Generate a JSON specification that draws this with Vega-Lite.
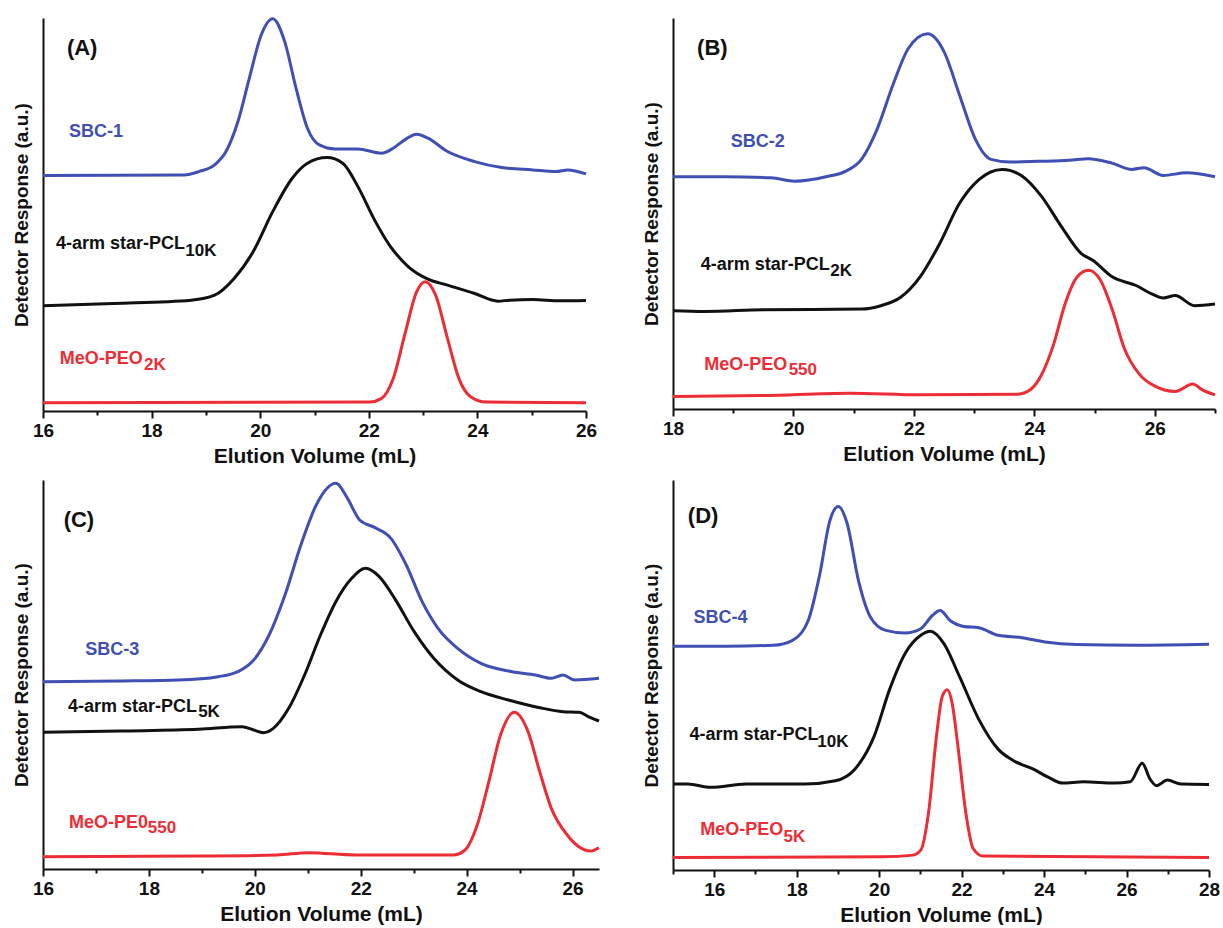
{
"$schema": "https://vega.github.io/schema/vega-lite/v6.json",
"padding": {"left": 12, "top": 12, "right": 0, "bottom": 0},
"background": "white",
"config": {
  "view": {"stroke": null},
  "font": "Liberation Sans",
  "axis": {"domainColor": "#111", "domainWidth": 2, "tickColor": "#111", "tickWidth": 2, "labelFont": "Liberation Sans", "labelFontWeight": "bold", "labelFontSize": 19, "labelColor": "#111", "titleFont": "Liberation Sans", "titleFontWeight": "bold", "titleColor": "#111", "grid": false},
  "axisX": {"labelFlush": false, "labelPadding": 3, "titleFontSize": 21, "titlePadding": 5, "labelExpr": "datum.value % 2 === 0 ? datum.label : ''", "tickSize": {"condition": {"test": "datum.value % 2 === 0", "value": 7}, "value": 4}},
  "axisY": {"labels": false, "ticks": false, "titleFontSize": 19, "titlePadding": 12, "minExtent": 0},
  "text": {"font": "Liberation Sans", "fontWeight": "bold", "align": "left", "baseline": "middle"},
  "line": {"interpolate": "monotone", "strokeWidth": 3}
},
"datasets": {
"curves": [
{"p":"A","s":"SBC","x":16,"y":705},{"p":"A","s":"SBC","x":18.6,"y":707},{"p":"A","s":"SBC","x":18.87,"y":717},{"p":"A","s":"SBC","x":19.16,"y":737},{"p":"A","s":"SBC","x":19.37,"y":777},{"p":"A","s":"SBC","x":19.59,"y":867},{"p":"A","s":"SBC","x":19.8,"y":997},{"p":"A","s":"SBC","x":20.02,"y":1127},{"p":"A","s":"SBC","x":20.23,"y":1175},{"p":"A","s":"SBC","x":20.45,"y":1107},{"p":"A","s":"SBC","x":20.66,"y":967},{"p":"A","s":"SBC","x":20.87,"y":847},{"p":"A","s":"SBC","x":21.09,"y":797},{"p":"A","s":"SBC","x":21.38,"y":785},{"p":"A","s":"SBC","x":21.8,"y":785},{"p":"A","s":"SBC","x":22.23,"y":772},{"p":"A","s":"SBC","x":22.45,"y":787},{"p":"A","s":"SBC","x":22.66,"y":812},{"p":"A","s":"SBC","x":22.88,"y":829},{"p":"A","s":"SBC","x":23.09,"y":817},{"p":"A","s":"SBC","x":23.45,"y":777},{"p":"A","s":"SBC","x":23.95,"y":747},{"p":"A","s":"SBC","x":24.45,"y":729},{"p":"A","s":"SBC","x":25.02,"y":722},{"p":"A","s":"SBC","x":25.45,"y":717},{"p":"A","s":"SBC","x":25.66,"y":722},{"p":"A","s":"SBC","x":26,"y":710},
{"p":"A","s":"PCL","x":16,"y":315},{"p":"A","s":"PCL","x":17.3,"y":322},{"p":"A","s":"PCL","x":18.73,"y":332},{"p":"A","s":"PCL","x":19.16,"y":347},{"p":"A","s":"PCL","x":19.52,"y":397},{"p":"A","s":"PCL","x":19.87,"y":477},{"p":"A","s":"PCL","x":20.23,"y":597},{"p":"A","s":"PCL","x":20.59,"y":697},{"p":"A","s":"PCL","x":20.87,"y":742},{"p":"A","s":"PCL","x":21.23,"y":759},{"p":"A","s":"PCL","x":21.52,"y":742},{"p":"A","s":"PCL","x":21.8,"y":672},{"p":"A","s":"PCL","x":22.09,"y":577},{"p":"A","s":"PCL","x":22.38,"y":497},{"p":"A","s":"PCL","x":22.73,"y":432},{"p":"A","s":"PCL","x":23.09,"y":395},{"p":"A","s":"PCL","x":23.45,"y":377},{"p":"A","s":"PCL","x":23.95,"y":352},{"p":"A","s":"PCL","x":24.38,"y":329},{"p":"A","s":"PCL","x":24.59,"y":332},{"p":"A","s":"PCL","x":25.02,"y":334},{"p":"A","s":"PCL","x":25.52,"y":330},{"p":"A","s":"PCL","x":26,"y":331},
{"p":"A","s":"PEO","x":16,"y":25},{"p":"A","s":"PEO","x":22.02,"y":27},{"p":"A","s":"PEO","x":22.23,"y":37},{"p":"A","s":"PEO","x":22.45,"y":97},{"p":"A","s":"PEO","x":22.66,"y":227},{"p":"A","s":"PEO","x":22.88,"y":357},{"p":"A","s":"PEO","x":23.04,"y":387},{"p":"A","s":"PEO","x":23.23,"y":347},{"p":"A","s":"PEO","x":23.45,"y":217},{"p":"A","s":"PEO","x":23.66,"y":97},{"p":"A","s":"PEO","x":23.88,"y":42},{"p":"A","s":"PEO","x":24.16,"y":27},{"p":"A","s":"PEO","x":26,"y":25},
{"p":"B","s":"SBC","x":18,"y":690},{"p":"B","s":"SBC","x":18.85,"y":690},{"p":"B","s":"SBC","x":19.63,"y":687},{"p":"B","s":"SBC","x":20.02,"y":677},{"p":"B","s":"SBC","x":20.54,"y":690},{"p":"B","s":"SBC","x":20.87,"y":707},{"p":"B","s":"SBC","x":21.13,"y":742},{"p":"B","s":"SBC","x":21.39,"y":832},{"p":"B","s":"SBC","x":21.65,"y":962},{"p":"B","s":"SBC","x":21.91,"y":1072},{"p":"B","s":"SBC","x":22.23,"y":1115},{"p":"B","s":"SBC","x":22.5,"y":1062},{"p":"B","s":"SBC","x":22.76,"y":932},{"p":"B","s":"SBC","x":23.02,"y":802},{"p":"B","s":"SBC","x":23.28,"y":742},{"p":"B","s":"SBC","x":23.6,"y":734},{"p":"B","s":"SBC","x":24.06,"y":736},{"p":"B","s":"SBC","x":24.58,"y":739},{"p":"B","s":"SBC","x":24.9,"y":744},{"p":"B","s":"SBC","x":25.3,"y":730},{"p":"B","s":"SBC","x":25.62,"y":712},{"p":"B","s":"SBC","x":25.82,"y":717},{"p":"B","s":"SBC","x":26.14,"y":694},{"p":"B","s":"SBC","x":26.53,"y":702},{"p":"B","s":"SBC","x":27,"y":690},
{"p":"B","s":"PCL","x":18,"y":292},{"p":"B","s":"PCL","x":18.52,"y":290},{"p":"B","s":"PCL","x":19.5,"y":295},{"p":"B","s":"PCL","x":21.13,"y":297},{"p":"B","s":"PCL","x":21.45,"y":307},{"p":"B","s":"PCL","x":21.78,"y":332},{"p":"B","s":"PCL","x":22.1,"y":392},{"p":"B","s":"PCL","x":22.43,"y":492},{"p":"B","s":"PCL","x":22.76,"y":612},{"p":"B","s":"PCL","x":23.08,"y":682},{"p":"B","s":"PCL","x":23.47,"y":712},{"p":"B","s":"PCL","x":23.8,"y":692},{"p":"B","s":"PCL","x":24.12,"y":632},{"p":"B","s":"PCL","x":24.45,"y":542},{"p":"B","s":"PCL","x":24.78,"y":462},{"p":"B","s":"PCL","x":24.97,"y":442},{"p":"B","s":"PCL","x":25.3,"y":392},{"p":"B","s":"PCL","x":25.69,"y":367},{"p":"B","s":"PCL","x":25.95,"y":342},{"p":"B","s":"PCL","x":26.14,"y":330},{"p":"B","s":"PCL","x":26.34,"y":337},{"p":"B","s":"PCL","x":26.66,"y":307},{"p":"B","s":"PCL","x":27,"y":312},
{"p":"B","s":"PEO","x":18,"y":37},{"p":"B","s":"PEO","x":19.5,"y":40},{"p":"B","s":"PEO","x":20.93,"y":47},{"p":"B","s":"PEO","x":22.1,"y":42},{"p":"B","s":"PEO","x":23.73,"y":44},{"p":"B","s":"PEO","x":23.93,"y":57},{"p":"B","s":"PEO","x":24.12,"y":102},{"p":"B","s":"PEO","x":24.32,"y":192},{"p":"B","s":"PEO","x":24.51,"y":312},{"p":"B","s":"PEO","x":24.71,"y":392},{"p":"B","s":"PEO","x":24.9,"y":412},{"p":"B","s":"PEO","x":25.1,"y":382},{"p":"B","s":"PEO","x":25.3,"y":292},{"p":"B","s":"PEO","x":25.49,"y":182},{"p":"B","s":"PEO","x":25.75,"y":102},{"p":"B","s":"PEO","x":26.01,"y":67},{"p":"B","s":"PEO","x":26.34,"y":52},{"p":"B","s":"PEO","x":26.63,"y":74},{"p":"B","s":"PEO","x":26.79,"y":57},{"p":"B","s":"PEO","x":27,"y":42},
{"p":"C","s":"SBC","x":16,"y":562},{"p":"C","s":"SBC","x":17.46,"y":564},{"p":"C","s":"SBC","x":18.57,"y":567},{"p":"C","s":"SBC","x":19.31,"y":577},{"p":"C","s":"SBC","x":19.68,"y":592},{"p":"C","s":"SBC","x":19.98,"y":627},{"p":"C","s":"SBC","x":20.27,"y":702},{"p":"C","s":"SBC","x":20.57,"y":822},{"p":"C","s":"SBC","x":20.87,"y":972},{"p":"C","s":"SBC","x":21.16,"y":1092},{"p":"C","s":"SBC","x":21.53,"y":1157},{"p":"C","s":"SBC","x":21.75,"y":1112},{"p":"C","s":"SBC","x":21.98,"y":1047},{"p":"C","s":"SBC","x":22.27,"y":1024},{"p":"C","s":"SBC","x":22.57,"y":992},{"p":"C","s":"SBC","x":22.86,"y":912},{"p":"C","s":"SBC","x":23.16,"y":802},{"p":"C","s":"SBC","x":23.46,"y":722},{"p":"C","s":"SBC","x":23.83,"y":662},{"p":"C","s":"SBC","x":24.27,"y":617},{"p":"C","s":"SBC","x":24.86,"y":592},{"p":"C","s":"SBC","x":25.3,"y":582},{"p":"C","s":"SBC","x":25.6,"y":572},{"p":"C","s":"SBC","x":25.82,"y":582},{"p":"C","s":"SBC","x":26.04,"y":567},{"p":"C","s":"SBC","x":26.5,"y":572},
{"p":"C","s":"PCL","x":16,"y":410},{"p":"C","s":"PCL","x":17.46,"y":414},{"p":"C","s":"PCL","x":18.94,"y":419},{"p":"C","s":"PCL","x":19.76,"y":427},{"p":"C","s":"PCL","x":19.98,"y":417},{"p":"C","s":"PCL","x":20.16,"y":409},{"p":"C","s":"PCL","x":20.35,"y":422},{"p":"C","s":"PCL","x":20.64,"y":482},{"p":"C","s":"PCL","x":20.94,"y":582},{"p":"C","s":"PCL","x":21.24,"y":702},{"p":"C","s":"PCL","x":21.53,"y":802},{"p":"C","s":"PCL","x":21.83,"y":872},{"p":"C","s":"PCL","x":22.09,"y":902},{"p":"C","s":"PCL","x":22.35,"y":877},{"p":"C","s":"PCL","x":22.64,"y":812},{"p":"C","s":"PCL","x":23.01,"y":712},{"p":"C","s":"PCL","x":23.38,"y":632},{"p":"C","s":"PCL","x":23.83,"y":567},{"p":"C","s":"PCL","x":24.27,"y":532},{"p":"C","s":"PCL","x":24.79,"y":507},{"p":"C","s":"PCL","x":25.38,"y":484},{"p":"C","s":"PCL","x":25.82,"y":472},{"p":"C","s":"PCL","x":26.12,"y":470},{"p":"C","s":"PCL","x":26.34,"y":454},{"p":"C","s":"PCL","x":26.5,"y":444},
{"p":"C","s":"PEO","x":16,"y":37},{"p":"C","s":"PEO","x":18.94,"y":39},{"p":"C","s":"PEO","x":20.42,"y":42},{"p":"C","s":"PEO","x":21.01,"y":49},{"p":"C","s":"PEO","x":21.9,"y":42},{"p":"C","s":"PEO","x":23.75,"y":42},{"p":"C","s":"PEO","x":23.97,"y":57},{"p":"C","s":"PEO","x":24.2,"y":132},{"p":"C","s":"PEO","x":24.42,"y":262},{"p":"C","s":"PEO","x":24.64,"y":402},{"p":"C","s":"PEO","x":24.9,"y":470},{"p":"C","s":"PEO","x":25.16,"y":412},{"p":"C","s":"PEO","x":25.38,"y":292},{"p":"C","s":"PEO","x":25.6,"y":182},{"p":"C","s":"PEO","x":25.9,"y":102},{"p":"C","s":"PEO","x":26.12,"y":67},{"p":"C","s":"PEO","x":26.34,"y":54},{"p":"C","s":"PEO","x":26.5,"y":64},
{"p":"D","s":"SBC","x":15,"y":677},{"p":"D","s":"SBC","x":16.3,"y":677},{"p":"D","s":"SBC","x":17.43,"y":680},{"p":"D","s":"SBC","x":17.9,"y":695},{"p":"D","s":"SBC","x":18.28,"y":755},{"p":"D","s":"SBC","x":18.56,"y":895},{"p":"D","s":"SBC","x":18.8,"y":1055},{"p":"D","s":"SBC","x":19.01,"y":1100},{"p":"D","s":"SBC","x":19.22,"y":1050},{"p":"D","s":"SBC","x":19.5,"y":875},{"p":"D","s":"SBC","x":19.79,"y":765},{"p":"D","s":"SBC","x":20.16,"y":725},{"p":"D","s":"SBC","x":20.63,"y":717},{"p":"D","s":"SBC","x":21.01,"y":730},{"p":"D","s":"SBC","x":21.29,"y":770},{"p":"D","s":"SBC","x":21.48,"y":785},{"p":"D","s":"SBC","x":21.72,"y":755},{"p":"D","s":"SBC","x":22.05,"y":737},{"p":"D","s":"SBC","x":22.42,"y":733},{"p":"D","s":"SBC","x":22.89,"y":710},{"p":"D","s":"SBC","x":23.46,"y":703},{"p":"D","s":"SBC","x":24.02,"y":690},{"p":"D","s":"SBC","x":24.78,"y":682},{"p":"D","s":"SBC","x":26.19,"y":680},{"p":"D","s":"SBC","x":28,"y":683},
{"p":"D","s":"PCL","x":15,"y":260},{"p":"D","s":"PCL","x":15.36,"y":260},{"p":"D","s":"PCL","x":15.92,"y":250},{"p":"D","s":"PCL","x":16.77,"y":260},{"p":"D","s":"PCL","x":18.19,"y":260},{"p":"D","s":"PCL","x":18.94,"y":270},{"p":"D","s":"PCL","x":19.41,"y":305},{"p":"D","s":"PCL","x":19.88,"y":405},{"p":"D","s":"PCL","x":20.25,"y":545},{"p":"D","s":"PCL","x":20.63,"y":655},{"p":"D","s":"PCL","x":21.01,"y":710},{"p":"D","s":"PCL","x":21.24,"y":722},{"p":"D","s":"PCL","x":21.57,"y":685},{"p":"D","s":"PCL","x":21.95,"y":585},{"p":"D","s":"PCL","x":22.42,"y":455},{"p":"D","s":"PCL","x":22.89,"y":365},{"p":"D","s":"PCL","x":23.27,"y":330},{"p":"D","s":"PCL","x":23.74,"y":305},{"p":"D","s":"PCL","x":24.11,"y":280},{"p":"D","s":"PCL","x":24.45,"y":263},{"p":"D","s":"PCL","x":24.96,"y":267},{"p":"D","s":"PCL","x":25.71,"y":263},{"p":"D","s":"PCL","x":26.09,"y":267},{"p":"D","s":"PCL","x":26.38,"y":323},{"p":"D","s":"PCL","x":26.57,"y":275},{"p":"D","s":"PCL","x":26.73,"y":255},{"p":"D","s":"PCL","x":26.99,"y":272},{"p":"D","s":"PCL","x":27.32,"y":260},{"p":"D","s":"PCL","x":28,"y":259},
{"p":"D","s":"PEO","x":15,"y":38},{"p":"D","s":"PEO","x":20.08,"y":40},{"p":"D","s":"PEO","x":20.82,"y":45},{"p":"D","s":"PEO","x":21.01,"y":60},{"p":"D","s":"PEO","x":21.2,"y":175},{"p":"D","s":"PEO","x":21.39,"y":405},{"p":"D","s":"PEO","x":21.53,"y":525},{"p":"D","s":"PEO","x":21.65,"y":545},{"p":"D","s":"PEO","x":21.77,"y":505},{"p":"D","s":"PEO","x":21.91,"y":375},{"p":"D","s":"PEO","x":22.1,"y":175},{"p":"D","s":"PEO","x":22.28,"y":65},{"p":"D","s":"PEO","x":22.52,"y":42},{"p":"D","s":"PEO","x":28,"y":38}
],
"labels": [
{"p":"A","k":"letter","s":"PCL","t":"(A)","x":16.44,"y":1087},
{"p":"A","k":"main","s":"SBC","t":"SBC-1","x":16.48,"y":837},
{"p":"A","k":"main","s":"PCL","t":"4-arm star-PCL","x":16.24,"y":500},
{"p":"A","k":"sub","s":"PCL","t":"10K","x":18.62,"y":480},
{"p":"A","k":"main","s":"PEO","t":"MeO-PEO","x":16.31,"y":157},
{"p":"A","k":"sub","s":"PEO","t":"2K","x":17.86,"y":137},
{"p":"B","k":"letter","s":"PCL","t":"(B)","x":18.4,"y":1072},
{"p":"B","k":"main","s":"SBC","t":"SBC-2","x":18.96,"y":794},
{"p":"B","k":"main","s":"PCL","t":"4-arm star-PCL","x":18.46,"y":427},
{"p":"B","k":"sub","s":"PCL","t":"2K","x":20.61,"y":409},
{"p":"B","k":"main","s":"PEO","t":"MeO-PEO","x":18.52,"y":132},
{"p":"B","k":"sub","s":"PEO","t":"550","x":19.92,"y":115},
{"p":"C","k":"letter","s":"PCL","t":"(C)","x":16.39,"y":1047},
{"p":"C","k":"main","s":"SBC","t":"SBC-3","x":16.8,"y":657},
{"p":"C","k":"main","s":"PCL","t":"4-arm star-PCL","x":16.47,"y":487},
{"p":"C","k":"sub","s":"PCL","t":"5K","x":18.93,"y":470},
{"p":"C","k":"main","s":"PEO","t":"MeO-PE0","x":16.49,"y":137},
{"p":"C","k":"sub","s":"PEO","t":"550","x":17.98,"y":122},
{"p":"D","k":"letter","s":"PCL","t":"(D)","x":15.36,"y":1070},
{"p":"D","k":"main","s":"SBC","t":"SBC-4","x":15.5,"y":763},
{"p":"D","k":"main","s":"PCL","t":"4-arm star-PCL","x":15.4,"y":407},
{"p":"D","k":"sub","s":"PCL","t":"10K","x":18.5,"y":387},
{"p":"D","k":"main","s":"PEO","t":"MeO-PEO","x":15.66,"y":120},
{"p":"D","k":"sub","s":"PEO","t":"5K","x":17.68,"y":100}
]
},
"spacing": 11,
"vconcat": [
{"hconcat": [
 {"width": 543, "height": 393,
  "encoding": {"x": {"field": "x", "type": "quantitative", "scale": {"domain": [16, 26], "nice": false, "zero": false}, "axis": {"title": "Elution Volume (mL)", "values": [16,17,18,19,20,21,22,23,24,25,26]}},
               "y": {"field": "y", "type": "quantitative", "scale": {"domain": [0, 1177], "nice": false}, "axis": {"title": "Detector Response (a.u.)"}},
               "color": {"field": "s", "type": "nominal", "scale": {"domain": ["SBC","PCL","PEO"], "range": ["#3f4fb3","#111111","#ec2d35"]}, "legend": null}},
  "layer": [
   {"data": {"name": "curves"}, "transform": [{"filter": "datum.p === 'A'"}], "mark": "line"},
   {"data": {"name": "labels"}, "transform": [{"filter": "datum.p === 'A' && datum.k === 'main'"}], "mark": {"type": "text", "fontSize": 18}, "encoding": {"text": {"field": "t"}}},
   {"data": {"name": "labels"}, "transform": [{"filter": "datum.p === 'A' && datum.k === 'sub'"}], "mark": {"type": "text", "fontSize": 17}, "encoding": {"text": {"field": "t"}}},
   {"data": {"name": "labels"}, "transform": [{"filter": "datum.p === 'A' && datum.k === 'letter'"}], "mark": {"type": "text", "fontSize": 22}, "encoding": {"text": {"field": "t"}}}
  ]},
 {"width": 542, "height": 391,
  "encoding": {"x": {"field": "x", "type": "quantitative", "scale": {"domain": [18, 27], "nice": false, "zero": false}, "axis": {"title": "Elution Volume (mL)", "values": [18,19,20,21,22,23,24,25,26,27]}},
               "y": {"field": "y", "type": "quantitative", "scale": {"domain": [0, 1162], "nice": false}, "axis": {"title": "Detector Response (a.u.)"}},
               "color": {"field": "s", "type": "nominal", "scale": {"domain": ["SBC","PCL","PEO"], "range": ["#3f4fb3","#111111","#ec2d35"]}, "legend": null}},
  "layer": [
   {"data": {"name": "curves"}, "transform": [{"filter": "datum.p === 'B'"}], "mark": "line"},
   {"data": {"name": "labels"}, "transform": [{"filter": "datum.p === 'B' && datum.k === 'main'"}], "mark": {"type": "text", "fontSize": 18}, "encoding": {"text": {"field": "t"}}},
   {"data": {"name": "labels"}, "transform": [{"filter": "datum.p === 'B' && datum.k === 'sub'"}], "mark": {"type": "text", "fontSize": 17}, "encoding": {"text": {"field": "t"}}},
   {"data": {"name": "labels"}, "transform": [{"filter": "datum.p === 'B' && datum.k === 'letter'"}], "mark": {"type": "text", "fontSize": 22}, "encoding": {"text": {"field": "t"}}}
  ]}
], "spacing": 45},
{"hconcat": [
 {"width": 556, "height": 389,
  "encoding": {"x": {"field": "x", "type": "quantitative", "scale": {"domain": [16, 26.5], "nice": false, "zero": false}, "axis": {"title": "Elution Volume (mL)", "values": [16,17,18,19,20,21,22,23,24,25,26]}},
               "y": {"field": "y", "type": "quantitative", "scale": {"domain": [0, 1167], "nice": false}, "axis": {"title": "Detector Response (a.u.)"}},
               "color": {"field": "s", "type": "nominal", "scale": {"domain": ["SBC","PCL","PEO"], "range": ["#3f4fb3","#111111","#ec2d35"]}, "legend": null}},
  "layer": [
   {"data": {"name": "curves"}, "transform": [{"filter": "datum.p === 'C'"}], "mark": "line"},
   {"data": {"name": "labels"}, "transform": [{"filter": "datum.p === 'C' && datum.k === 'main'"}], "mark": {"type": "text", "fontSize": 18}, "encoding": {"text": {"field": "t"}}},
   {"data": {"name": "labels"}, "transform": [{"filter": "datum.p === 'C' && datum.k === 'sub'"}], "mark": {"type": "text", "fontSize": 17}, "encoding": {"text": {"field": "t"}}},
   {"data": {"name": "labels"}, "transform": [{"filter": "datum.p === 'C' && datum.k === 'letter'"}], "mark": {"type": "text", "fontSize": 22}, "encoding": {"text": {"field": "t"}}}
  ]},
 {"width": 536, "height": 390,
  "encoding": {"x": {"field": "x", "type": "quantitative", "scale": {"domain": [15, 28], "nice": false, "zero": false}, "axis": {"title": "Elution Volume (mL)", "values": [15,16,17,18,19,20,21,22,23,24,25,26,27,28]}},
               "y": {"field": "y", "type": "quantitative", "scale": {"domain": [0, 1180], "nice": false}, "axis": {"title": "Detector Response (a.u.)"}},
               "color": {"field": "s", "type": "nominal", "scale": {"domain": ["SBC","PCL","PEO"], "range": ["#3f4fb3","#111111","#ec2d35"]}, "legend": null}},
  "layer": [
   {"data": {"name": "curves"}, "transform": [{"filter": "datum.p === 'D'"}], "mark": "line"},
   {"data": {"name": "labels"}, "transform": [{"filter": "datum.p === 'D' && datum.k === 'main'"}], "mark": {"type": "text", "fontSize": 18}, "encoding": {"text": {"field": "t"}}},
   {"data": {"name": "labels"}, "transform": [{"filter": "datum.p === 'D' && datum.k === 'sub'"}], "mark": {"type": "text", "fontSize": 17}, "encoding": {"text": {"field": "t"}}},
   {"data": {"name": "labels"}, "transform": [{"filter": "datum.p === 'D' && datum.k === 'letter'"}], "mark": {"type": "text", "fontSize": 22}, "encoding": {"text": {"field": "t"}}}
  ]}
], "spacing": 37}
]
}
